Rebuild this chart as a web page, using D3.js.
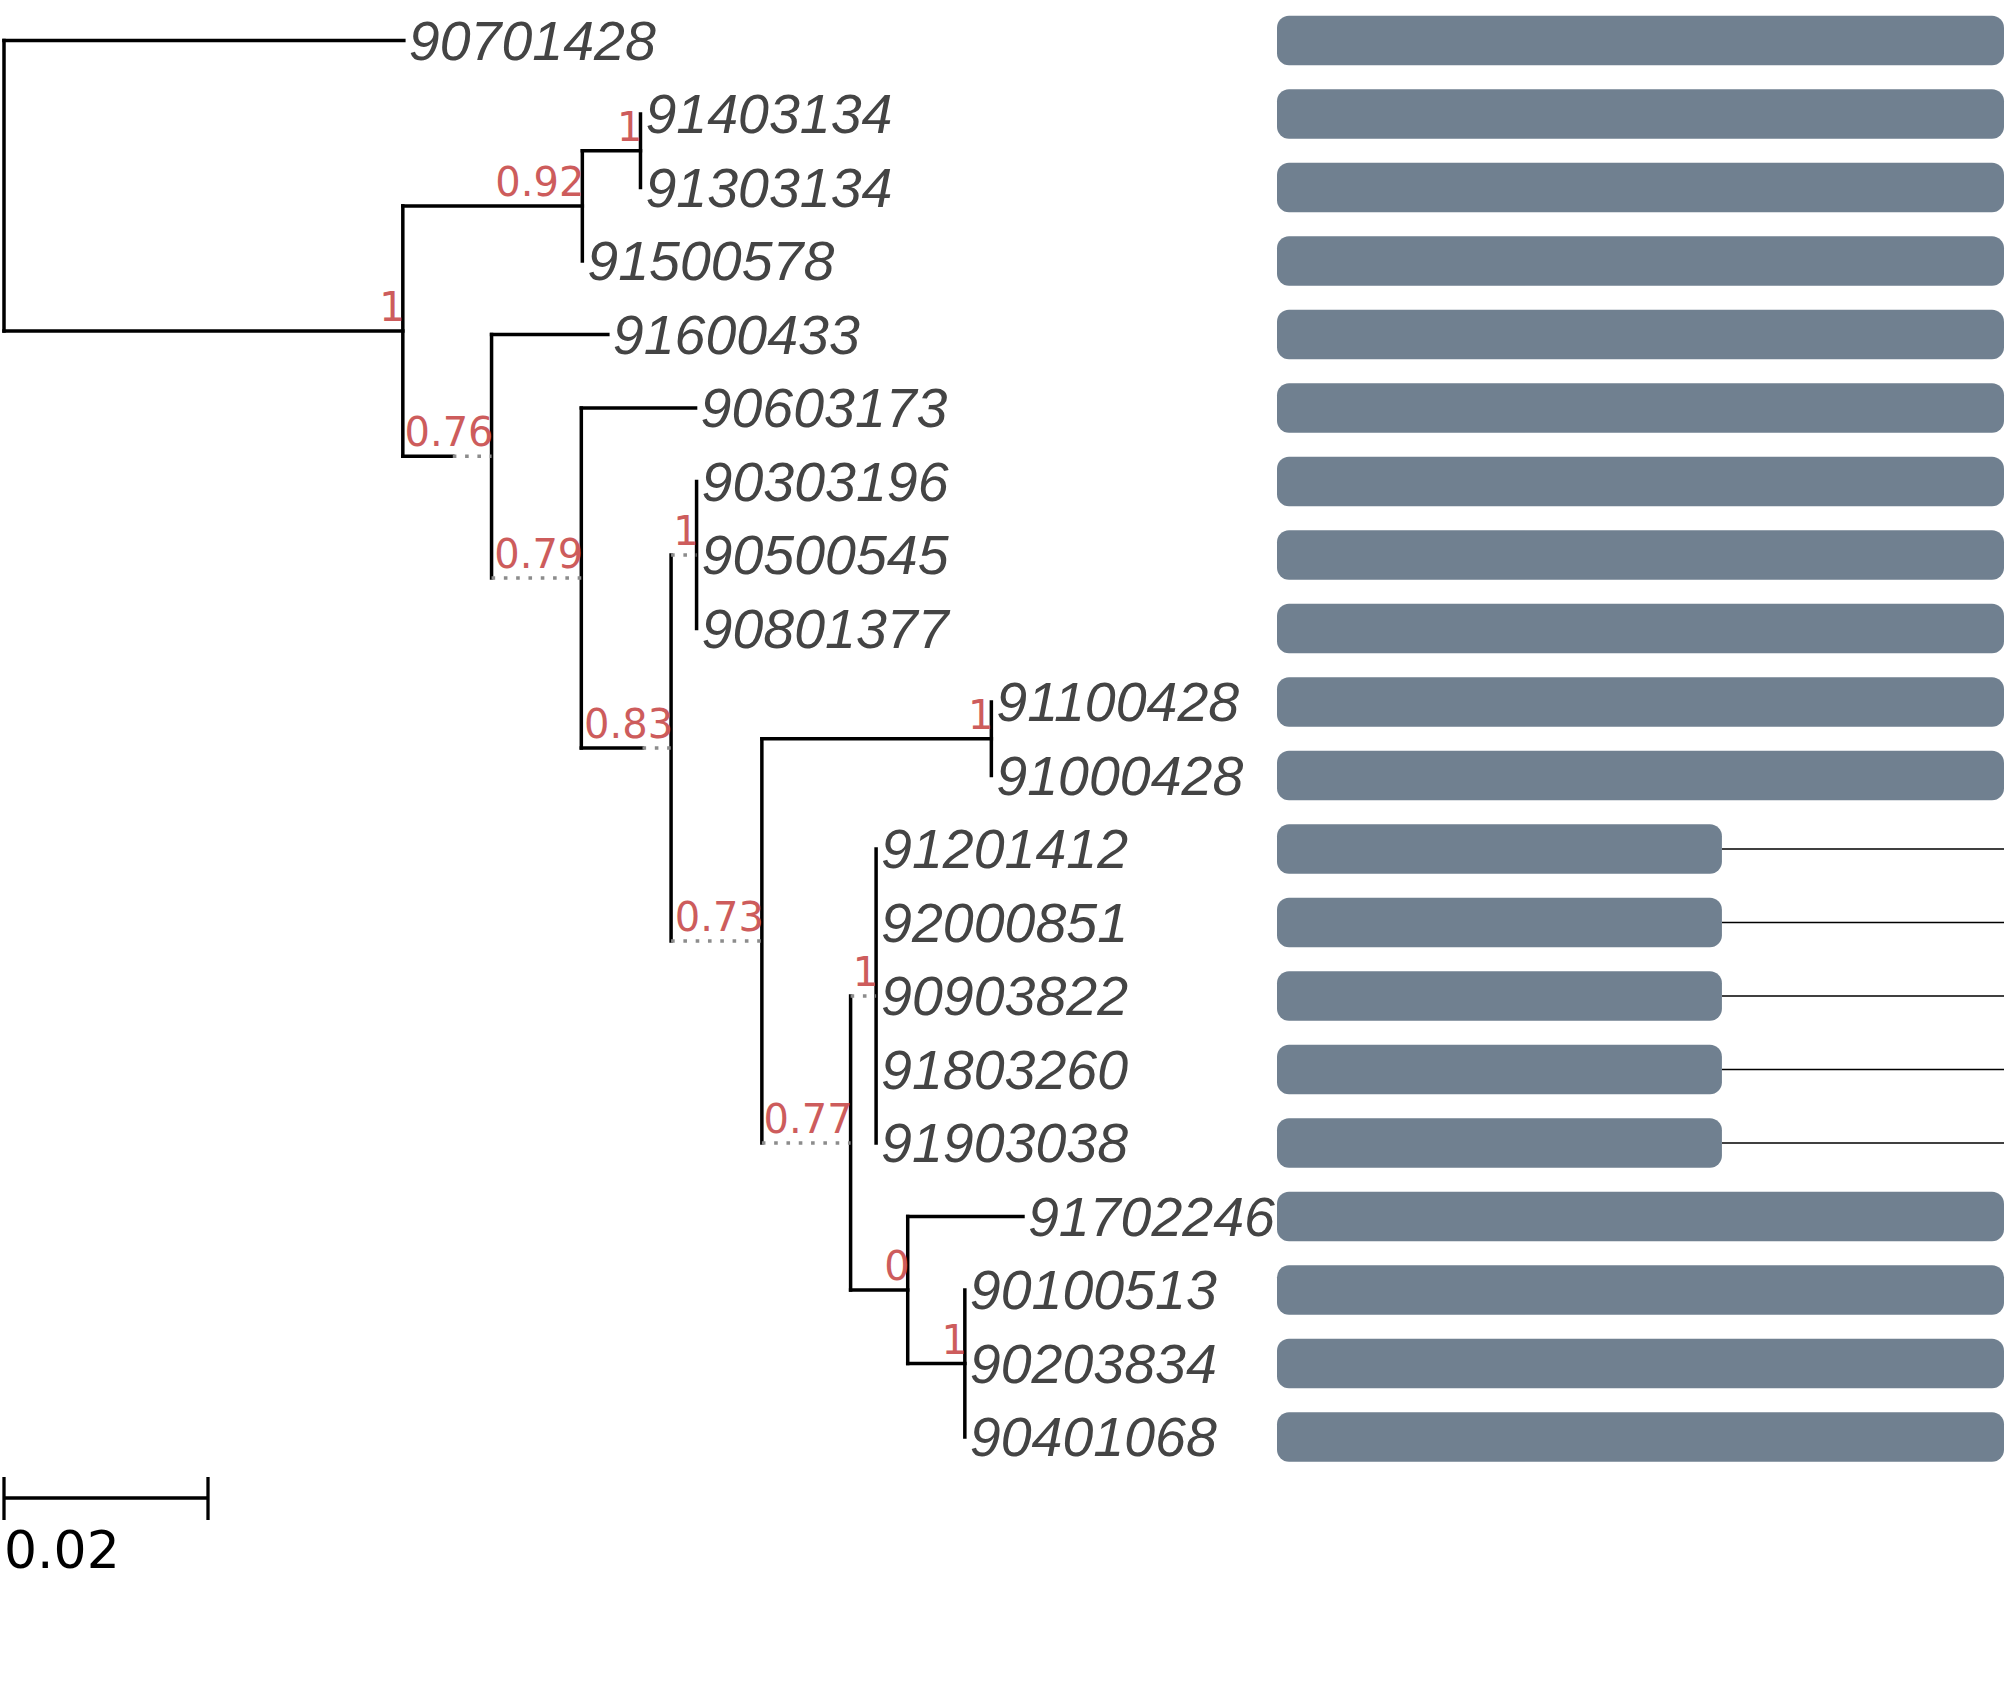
<!DOCTYPE html>
<html>
<head>
<meta charset="utf-8">
<script src="https://cdn.jsdelivr.net/npm/d3@7"></script>
<style>
  html, body { margin: 0; padding: 0; background: #ffffff; }
  svg { display: block; }
</style>
</head>
<body>
<div id="chart"></div>
<script>
// ---------------- DATA ----------------
// Tree edges (child, parent, branch length, solid part of the branch)
const edgeChild  = ["90701428","nA","nB","nC","91403134","91303134","91500578","nD","91600433","nE","90603173","nF","nG","90303196","90500545","90801377","nH","nI","91100428","91000428","nJ","nK","91201412","92000851","90903822","91803260","91903038","nL","91702246","nM","90100513","90203834","90401068"];
const edgeParent = ["root","root","nA","nB","nC","nC","nB","nA","nD","nD","nE","nE","nF","nG","nG","nG","nF","nH","nI","nI","nH","nJ","nK","nK","nK","nK","nK","nJ","nL","nL","nM","nM","nM"];
const branchLength = [0.0392,0.0391,0.0176,0.0057,0,0,0,0.0087,0.0114,0.0088,0.0112,0.0088,0.0025,0,0,0,0.0089,0.0225,0,0,0.0087,0.0025,0,0,0,0,0,0.0056,0.0113,0.0056,0,0,0];
const solidLength  = [0.0392,0.0391,0.0176,0.0057,0,0,0,0.0049,0.0114,0,0.0112,0.0060,0,0,0,0,0,0.0225,0,0,0,0,0,0,0,0,0,0.0056,0.0113,0.0056,0,0,0];
// Node support values
const supportNodes  = ["nA","nB","nC","nD","nE","nF","nG","nH","nI","nJ","nK","nL","nM"];
const supportValues = ["1","0.92","1","0.76","0.79","0.83","1","0.73","1","0.77","1","0","1"];

// Bars on the right (relative length per tip, 1 = full length)
const barTips = ["90701428","91403134","91303134","91500578","91600433","90603173","90303196","90500545","90801377","91100428","91000428","91201412","92000851","90903822","91803260","91903038","91702246","90100513","90203834","90401068"];
const barEnd  = [1,1,1,1,1,1,1,1,1,1,1,0.612,0.612,0.612,0.612,0.612,1,1,1,1];

const scaleBarValue = 0.02;
const scaleBarLabel = "0.02";

// ---------------- LAYOUT ----------------
const W = 2007, H = 1682;
const svg = d3.select("#chart").append("svg")
  .attr("width", W).attr("height", H)
  .attr("viewBox", `0 0 ${W} ${H}`);
svg.append("rect").attr("width", W).attr("height", H).attr("fill", "#fff");

const table = [{id: "root", parent: null, len: 0, solid: 0}]
  .concat(edgeChild.map((c, i) => ({id: c, parent: edgeParent[i], len: branchLength[i], solid: solidLength[i]})));
const root = d3.stratify().id(d => d.id).parentId(d => d.parent)(table);

// x = cumulative branch length
root.each(n => { n.dist = n.parent ? n.parent.dist + n.data.len : 0; });
// y: leaves in order, internal nodes = mean of children
const leaves = root.leaves();
leaves.forEach((l, i) => l.row = i);
root.eachAfter(n => { if (n.children) n.row = d3.mean(n.children, c => c.row); });

const x = d3.scaleLinear().domain([0, 0.02]).range([4, 208]);
const y = d3.scaleLinear().domain([0, leaves.length - 1]).range([40.5, 40.5 + 73.5 * (leaves.length - 1)]);

const gTree = svg.append("g");
const lineW = 3.5;

// vertical connectors
root.descendants().filter(n => n.children).forEach(n => {
  const ys = n.children.map(c => y(c.row));
  gTree.append("line")
    .attr("x1", x(n.dist)).attr("x2", x(n.dist))
    .attr("y1", d3.min(ys)).attr("y2", d3.max(ys))
    .attr("stroke", "#000").attr("stroke-width", lineW).attr("stroke-linecap", "square");
});

// horizontal branches
root.descendants().filter(n => n.parent).forEach(n => {
  const x0 = x(n.parent.dist), xs = x(n.parent.dist + n.data.solid), x1 = x(n.dist), yy = y(n.row);
  if (n.data.solid > 0) {
    gTree.append("line")
      .attr("x1", x0).attr("x2", xs).attr("y1", yy).attr("y2", yy)
      .attr("stroke", "#000").attr("stroke-width", lineW).attr("stroke-linecap", "square");
  }
  if (n.data.len - n.data.solid > 0.00001) {
    gTree.append("line")
      .attr("x1", xs).attr("x2", x1).attr("y1", yy).attr("y2", yy)
      .attr("stroke", "#8c8c8c").attr("stroke-width", lineW)
      .attr("stroke-dasharray", "3.6,8.7");
  }
});

// tip labels
gTree.selectAll("text.tip").data(leaves).enter().append("text")
  .attr("class", "tip")
  .attr("x", d => x(d.dist) + 5)
  .attr("y", d => y(d.row) + 19.3)
  .attr("font-family", "'Liberation Sans', Arial, sans-serif")
  .attr("font-style", "italic")
  .attr("font-size", 55.5)
  .attr("fill", "#444444")
  .text(d => d.id);

// support labels
const byId = new Map(root.descendants().map(n => [n.id, n]));
supportNodes.forEach((id, i) => {
  const n = byId.get(id);
  gTree.append("text")
    .attr("x", x(n.dist) + 2)
    .attr("y", y(n.row) - 10)
    .attr("text-anchor", "end")
    .attr("font-family", "'DejaVu Sans', sans-serif")
    .attr("font-size", 40)
    .attr("fill", "#CD5C5C")
    .text(supportValues[i]);
});

// right-hand bars
const bx = d3.scaleLinear().domain([0, 1]).range([1277, 2004]);
const gBars = svg.append("g");
barTips.forEach((t, i) => {
  const n = byId.get(t);
  const yy = y(n.row);
  if (barEnd[i] < 1) {
    gBars.append("line")
      .attr("x1", bx(barEnd[i])).attr("x2", bx(1))
      .attr("y1", yy).attr("y2", yy)
      .attr("stroke", "#000").attr("stroke-width", 1.3);
  }
  gBars.append("rect")
    .attr("x", bx(0)).attr("y", yy - 24.7)
    .attr("width", bx(barEnd[i]) - bx(0)).attr("height", 49.4)
    .attr("rx", 12).attr("ry", 12)
    .attr("fill", "#708090");
});

// scale bar
const sb = svg.append("g");
const sbY = 1498;
sb.append("line").attr("x1", x(0)).attr("x2", x(scaleBarValue)).attr("y1", sbY).attr("y2", sbY)
  .attr("stroke", "#000").attr("stroke-width", 3.3);
[0, scaleBarValue].forEach(v => {
  sb.append("line").attr("x1", x(v)).attr("x2", x(v)).attr("y1", sbY - 21).attr("y2", sbY + 22)
    .attr("stroke", "#000").attr("stroke-width", 3.3);
});
sb.append("text").attr("x", x(0)).attr("y", 1568)
  .attr("font-family", "'DejaVu Sans', sans-serif").attr("font-size", 52)
  .attr("fill", "#000").text(scaleBarLabel);
</script>
</body>
</html>
